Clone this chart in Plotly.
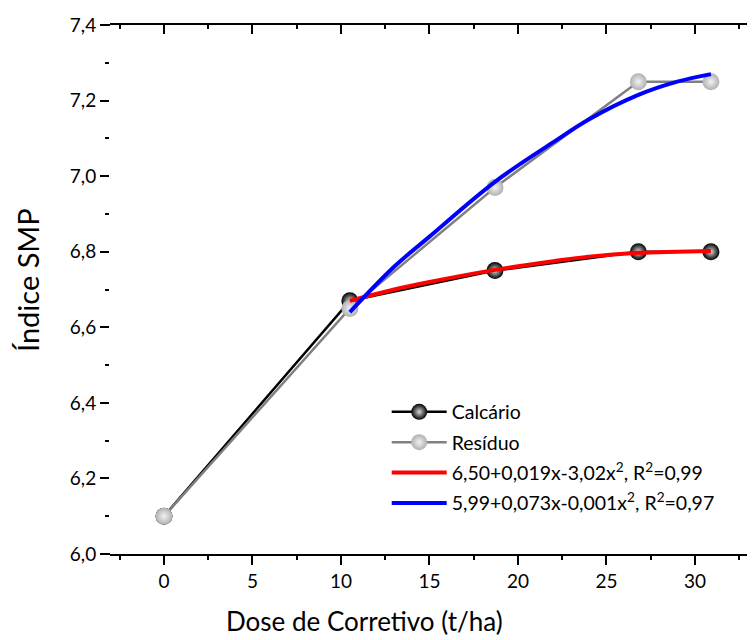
import plotly.graph_objects as go

# Data
dose = [0, 10.5, 18.7, 26.8, 30.9]
calcario = [6.10, 6.67, 6.75, 6.80, 6.80]
residuo = [6.10, 6.65, 6.97, 7.25, 7.25]

fit_x = [10.5, 13, 15, 18.7, 22, 24, 26.8, 29, 30.9]
fit_calcario = [6.67, 6.70, 6.72, 6.752, 6.775, 6.787, 6.797, 6.80, 6.802]
fit_residuo = [6.64, 6.76, 6.84, 6.985, 7.09, 7.15, 7.215, 7.25, 7.27]

x_ticks = [0, 5, 10, 15, 20, 25, 30]
y_ticks = [6.0, 6.2, 6.4, 6.6, 6.8, 7.0, 7.2, 7.4]

names = ["Calcário", "Resíduo",
         "6,50+0,019x-3,02x<sup>2</sup>, R<sup>2</sup>=0,99",
         "5,99+0,073x-0,001x<sup>2</sup>, R<sup>2</sup>=0,97"]
x_title = "Dose de Corretivo (t/ha)"
y_title = "Índice SMP"

FONT = "Lato"

fig = go.Figure()
fig.add_trace(go.Scatter(
    x=dose, y=calcario, name=names[0], mode="lines+markers", legendgroup="a",
    line=dict(color="black", width=2.5),
    marker=dict(size=17, color="#000000", line=dict(width=0),
                gradient=dict(type="radial", color="#d8d8d8")),
))
fig.add_trace(go.Scatter(
    x=dose, y=residuo, name=names[1], mode="lines+markers", legendgroup="b",
    line=dict(color="#808080", width=2.5),
    marker=dict(size=17, color="#b0b0b0", line=dict(width=0),
                gradient=dict(type="radial", color="#f2f2f2")),
))
fig.add_trace(go.Scatter(
    x=fit_x, y=fit_calcario, name=names[2], mode="lines", legendgroup="c",
    line=dict(color="#ff0000", width=4, shape="spline"),
))
fig.add_trace(go.Scatter(
    x=fit_x, y=fit_residuo, name=names[3], mode="lines", legendgroup="d",
    line=dict(color="#0000ff", width=4, shape="spline"),
))
# invisible trace to activate top axis
fig.add_trace(go.Scatter(x=[None], y=[None], xaxis="x2", showlegend=False))

PW = 645
xr = [-3.05, 33.39]
fig.update_layout(
    width=747, height=632,
    margin=dict(l=102, r=0, t=17, b=86),
    plot_bgcolor="white", paper_bgcolor="white",
    separators=", ",
    font=dict(family=FONT, color="black", size=19),
    showlegend=True,
    legend=dict(x=0.429, y=0.305, xanchor="left", yanchor="top",
                bgcolor="rgba(0,0,0,0)", font=dict(size=19.5, family=FONT),
                itemwidth=55, tracegroupgap=2),
    xaxis=dict(
        range=xr, tickmode="array", tickvals=x_ticks,
        ticks="outside", ticklen=9, tickwidth=1.5, tickcolor="black",
        minor=dict(ticks="outside", ticklen=4, dtick=2.5, tick0=0, tickwidth=1.5, tickcolor="black"),
        showline=True, linecolor="black", linewidth=2,
        showgrid=False, zeroline=False,
        tickfont=dict(size=19, family=FONT),
    ),
    xaxis2=dict(
        range=xr, overlaying="x", side="top", tickmode="array", tickvals=x_ticks,
        ticks="inside", ticklen=9, tickwidth=1.5, tickcolor="black",
        minor=dict(ticks="inside", ticklen=4, dtick=2.5, tick0=0, tickwidth=1.5, tickcolor="black"),
        showline=True, linecolor="black", linewidth=2,
        showgrid=False, zeroline=False, showticklabels=False,
    ),
    yaxis=dict(
        range=[6.0, 7.4], tickmode="array", tickvals=y_ticks, tickformat=".1f",
        ticks="outside", ticklen=9, tickwidth=1.5, tickcolor="black",
        minor=dict(ticks="outside", ticklen=4, dtick=0.1, tick0=6.0, tickwidth=1.5, tickcolor="black"),
        showline=False, showgrid=False, zeroline=False,
        tickfont=dict(size=19, family=FONT),
    ),
)

fig.add_annotation(text=x_title, xref="paper", yref="paper", x=0.395, y=0,
                   xanchor="center", yanchor="middle", yshift=-67, showarrow=False,
                   font=dict(size=26, family=FONT))
fig.add_annotation(text=y_title, xref="paper", yref="paper", x=0, y=0.518,
                   xanchor="center", yanchor="middle", xshift=-82, textangle=-90,
                   showarrow=False, font=dict(size=29, family=FONT))

ext = -9 / PW
for yy in (0, 1):
    fig.add_shape(type="line", xref="paper", yref="paper", x0=ext, x1=0, y0=yy, y1=yy,
                  line=dict(color="black", width=2))

fig.write_html("out.html")
